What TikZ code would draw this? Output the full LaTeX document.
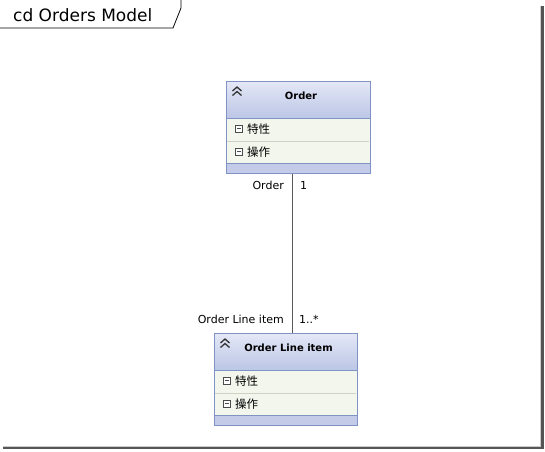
\documentclass[tikz,border=0pt]{standalone}
\usepackage{fontspec}
\setmainfont{DejaVu Sans}
\newfontfamily\cjk{Noto Sans CJK SC}
\definecolor{hdtop}{HTML}{E4E8F6}
\definecolor{hdbot}{HTML}{BCC6E6}
\definecolor{boxline}{HTML}{7F94C4}
\definecolor{rowbg}{HTML}{F3F6EC}
\definecolor{rowsep}{HTML}{CCD2C4}
\definecolor{bandc}{HTML}{C3CBE8}
\definecolor{shad}{HTML}{555555}
\begin{document}
\begin{tikzpicture}[x=1pt,y=-1pt,
  lbl/.style={font=\fontsize{11}{13}\selectfont, inner sep=0pt},
  rowtxt/.style={font=\cjk\fontsize{11.5}{13}\selectfont, inner sep=0pt, anchor=west},
  hdtxt/.style={font=\bfseries\fontsize{10}{12}\selectfont, inner sep=0pt},
  assoc/.style={draw=black!65, line width=0.7pt}
]
\useasboundingbox (0,0) rectangle (545,451);
\fill[white] (0,0) rectangle (545,451);
% frame
\draw[line width=0.8pt] (0,28) -- (173,28) -- (181,8) -- (181,0);
\node[font=\fontsize{17}{19}\selectfont, anchor=base west, inner sep=0pt] (title) at (13,21) {cd Orders Model};
\fill[shad] (540.5,6) rectangle (544,449);
\fill[shad] (3,446.5) rectangle (544,449);
\fill[black!20] (539.5,6) rectangle (540.5,446.5);
\fill[black!20] (3,445.5) rectangle (540.5,446.5);

\newcommand{\umlclass}[5]{% name, x0, y0, x1, title
  \shade[top color=hdtop, bottom color=hdbot] (#2,#3) rectangle (#4,#3+37);
  \fill[rowbg] (#2,#3+37) rectangle (#4,#3+82);
  \fill[bandc] (#2,#3+82) rectangle (#4,#3+92);
  \draw[rowsep, line width=0.6pt] (#2+1,#3+60) -- (#4-1,#3+60);
  \draw[boxline, line width=0.6pt] (#2,#3+37) -- (#4,#3+37);
  \draw[boxline, line width=0.6pt] (#2,#3+82) -- (#4,#3+82);
  \node[draw=boxline, line width=0.8pt, minimum width=#4pt-#2pt, minimum height=92pt, inner sep=0pt, anchor=north west] (#1) at (#2,#3) {};
  \node[hdtxt] (#1-title) at ({(#2+#4)/2+3},#3+15) {#5};
  % chevrons
  \draw[black!80, line width=1.3pt] (#2+6.5,#3+10) -- (#2+11,#3+6) -- (#2+15.5,#3+10);
  \draw[black!80, line width=1.3pt] (#2+6.5,#3+14.5) -- (#2+11,#3+10.5) -- (#2+15.5,#3+14.5);
  % minus boxes
  \draw[black!70, line width=0.5pt, fill=white] (#2+9,#3+44) rectangle (#2+16,#3+51);
  \draw[black!70, line width=0.6pt] (#2+10.5,#3+47.5) -- (#2+14.5,#3+47.5);
  \draw[black!70, line width=0.5pt, fill=white] (#2+9,#3+67) rectangle (#2+16,#3+74);
  \draw[black!70, line width=0.6pt] (#2+10.5,#3+70.5) -- (#2+14.5,#3+70.5);
  \node[rowtxt] (#1-attr) at (#2+21,#3+48) {特性};
  \node[rowtxt] (#1-ops) at (#2+21,#3+71) {操作};
}
\umlclass{order}{226}{81}{370}{Order}
\umlclass{item}{214}{333}{357}{Order Line item}

% association
\draw[assoc] (order.south -| 292,0) -- (item.north -| 292,0);
\node[lbl, anchor=east] (r1) at (284,185) {Order};
\node[lbl, anchor=west] (m1) at (300,185) {1};
\node[lbl, anchor=east] (r2) at (284,319) {Order Line item};
\node[lbl, anchor=west] (m2) at (299,319) {1..*};
\end{tikzpicture}
\end{document}
